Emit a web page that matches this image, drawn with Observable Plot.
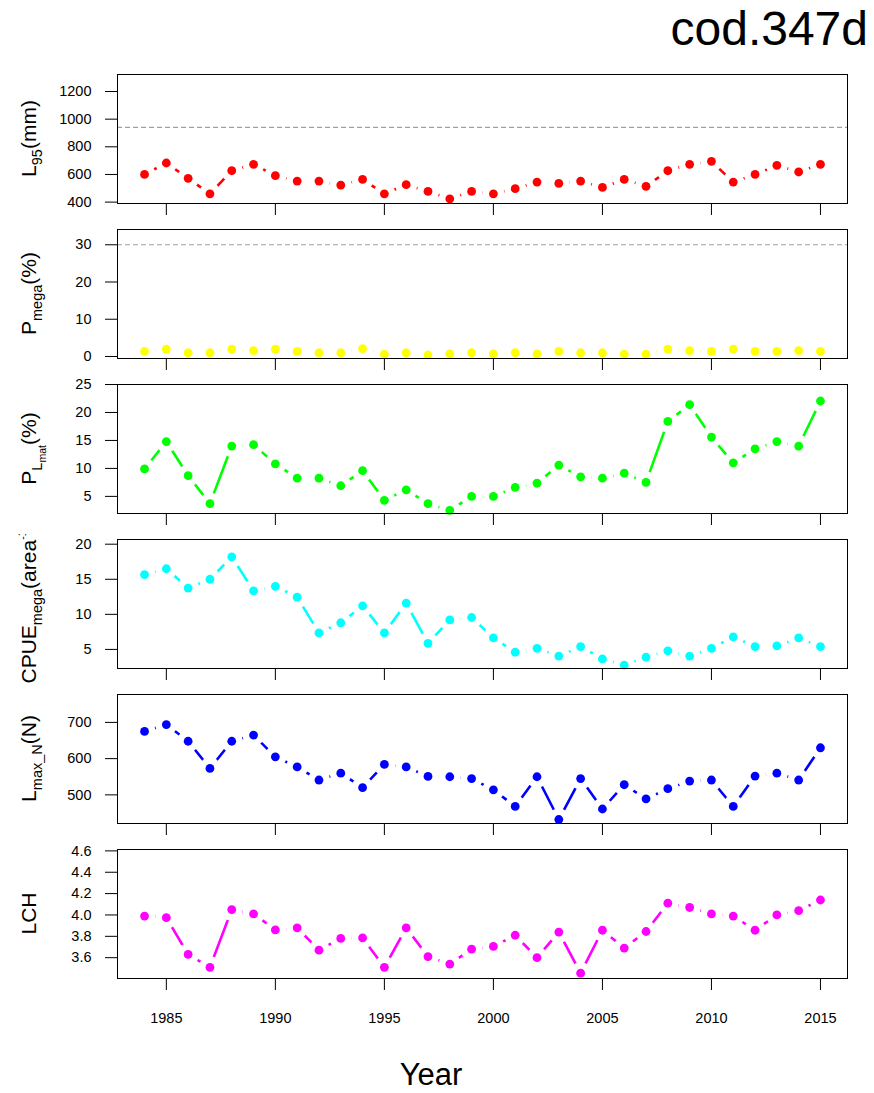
<!DOCTYPE html>
<html>
<head>
<meta charset="utf-8">
<script src="https://cdn.jsdelivr.net/npm/d3@7"></script>
<script src="https://cdn.jsdelivr.net/npm/@observablehq/plot@0.6"></script>
<style>
  body { margin: 0; background: #fff; }
  #chart { position: relative; width: 874px; height: 1093px; overflow: hidden; background: #fff;
           font-family: Arial, "Liberation Sans", sans-serif; }
  #chart svg.panel { position: absolute; left: 0; }
  #overlay { position: absolute; left: 0; top: 0; pointer-events: none; }
</style>
</head>
<body>
<div id="chart"></div>
<script>
// ---------------- data ----------------
const years = [1984,1985,1986,1987,1988,1989,1990,1991,1992,1993,1994,1995,1996,1997,1998,1999,
               2000,2001,2002,2003,2004,2005,2006,2007,2008,2009,2010,2011,2012,2013,2014,2015];

const L95 = [600,683,572,460,627,673,591,552,552,523,564,460,526,477,424,477,
             460,497,545,535,552,506,564,514,627,673,695,545,600,666,618,673];

const Pmega = [1.35,2.0,1.0,1.0,2.0,1.6,2.0,1.35,1.0,1.0,2.1,0.6,1.0,0.4,0.7,1.0,
               0.7,1.0,0.7,1.35,1.0,1.0,0.6,0.6,2.0,1.6,1.35,2.0,1.35,1.35,1.6,1.35];

const PLmat = [9.9,14.8,8.7,3.7,14.0,14.25,10.8,8.25,8.25,6.9,9.6,4.3,6.15,3.7,2.5,5.0,
               5.0,6.6,7.35,10.6,8.5,8.25,9.15,7.5,18.4,21.4,15.6,11.0,13.5,14.8,14.0,22.05];

const CPUEmega = [15.65,16.5,13.75,15.0,18.2,13.35,14.0,12.45,7.35,8.8,11.2,7.35,11.6,5.85,9.2,9.55,
                  6.65,4.6,5.15,4.05,5.4,3.65,2.75,3.9,4.8,4.05,5.15,6.8,5.4,5.5,6.65,5.4];

const LmaxN = [675,694,648,573,648,665,605,577,541,560,520,584,577,551,550,545,
               514,468,550,432,545,461,528,489,517,538,541,468,552,560,541,630];

const LCH = [3.99,3.975,3.63,3.51,4.05,4.01,3.86,3.88,3.67,3.78,3.785,3.51,3.88,3.61,3.54,3.68,
             3.705,3.81,3.60,3.84,3.455,3.857,3.69,3.845,4.11,4.07,4.01,3.99,3.857,4.0,4.04,4.14];

const xTicks = [1985,1990,1995,2000,2005,2010,2015];

const L95Ticks = [400,600,800,1000,1200];
const PmegaTicks = [0,10,20,30];
const PLmatTicks = [5,10,15,20,25];
const CPUETicks = [5,10,15,20];
const LmaxTicks = [500,600,700];
const LCHTicks = [3.6,3.8,4.0,4.2,4.4,4.6];

const L95Ref = 940;
const PmegaRef = 30;

// ---------------- layout ----------------
const W = 874;
const ML = 117, MR = 27;
const PH = 129;
const MT = 12;
const FONT = 'Arial, "Liberation Sans", sans-serif';

const panels = [
  {values: L95, color: "#ff0000", domain: [390, 1323], ticks: L95Ticks, ref: L95Ref, top: 74,
   label: [["L",0],["95",1],["(mm)",0]]},
  {values: Pmega, color: "#ffff00", domain: [-0.54, 34.1], ticks: PmegaTicks, ref: PmegaRef, top: 229,
   label: [["P",0],["mega",1],["(%)",0]]},
  {values: PLmat, color: "#00ff00", domain: [1.94, 25.0], ticks: PLmatTicks, top: 384,
   label: [["P",0],["L",1],["mat",2],["(%)",0]]},
  {values: CPUEmega, color: "#00ffff", domain: [2.28, 20.67], ticks: CPUETicks, top: 539, clipLabel: 5,
   label: [["CPUE",0],["mega",1],["(area",0],["-1",3],[")",0]]},
  {values: LmaxN, color: "#0000ff", domain: [421, 777], ticks: LmaxTicks, top: 694,
   label: [["L",0],["max_N",1],["(N)",0]]},
  {values: LCH, color: "#ff00ff", domain: [3.405, 4.613], ticks: LCHTicks, top: 849, last: true,
   tickFormat: d3.format(".1f"),
   label: [["LCH",0]]}
];

const chart = document.getElementById("chart");

panels.forEach((p, k) => {
  const rows = years.map((y, i) => ({year: y, value: p.values[i]}));
  const MB = p.last ? 70 : 26;
  const svg = Plot.plot({
    width: W,
    height: MT + PH + MB,
    marginLeft: ML, marginRight: MR, marginTop: MT, marginBottom: MB,
    style: {fontFamily: FONT, fontSize: "14.5px", color: "#000", background: "transparent", overflow: "visible"},
    x: {domain: [1982.76, 2016.24]},
    y: {domain: p.domain},
    marks: [
      p.ref != null ? Plot.ruleY([p.ref], {stroke: "#a0a0a0", strokeWidth: 1.2, strokeDasharray: "5,3"}) : null,
      Plot.line(rows, {x: "year", y: "value", stroke: p.color, strokeWidth: 2.6}),
      Plot.dot(rows, {x: "year", y: "value", r: 11, fill: "#fff", stroke: "none", clip: true}),
      Plot.dot(rows, {x: "year", y: "value", r: 4.4, fill: p.color, stroke: "none"}),
      Plot.frame({stroke: "#000", strokeWidth: 1}),
      Plot.axisX({ticks: xTicks, tickSize: 12, tickPadding: 22, label: null,
                  tickFormat: p.last ? (d => String(d)) : (() => ""), stroke: "#000", fill: "#000"}),
      Plot.axisY({ticks: p.ticks, tickSize: 12, tickPadding: 14, label: null,
                  tickFormat: p.tickFormat || (d => String(d)), stroke: "#000", fill: "#000"})
    ]
  });
  svg.classList.add("panel");
  svg.style.top = (p.top - MT) + "px";
  chart.appendChild(svg);

  const s = d3.select(svg);
  // optional clip for a label that runs past the figure region (as in the reference)
  let clipId = null;
  if (p.clipLabel != null) {
    clipId = "lblclip" + k;
    s.append("defs").append("clipPath").attr("id", clipId)
      .append("rect").attr("x", 0).attr("y", MT - p.clipLabel)
      .attr("width", ML).attr("height", PH + 40);
  }
  // rotated y-axis label with sub/superscripts
  const cy = MT + PH / 2;
  const sizes = {0: 21, 1: 14.5, 2: 10.5, 3: 10.5};
  const shifts = {0: 0, 1: 5.5, 2: 9.5, 3: -10};
  const g = s.append("g");
  if (clipId) g.attr("clip-path", `url(#${clipId})`);
  const t = g.append("text")
    .attr("transform", `translate(36,${cy}) rotate(-90)`)
    .attr("text-anchor", "middle")
    .attr("font-family", FONT)
    .attr("fill", "#000");
  let cur = 0;
  p.label.forEach(([txt, lvl]) => {
    const target = shifts[lvl];
    t.append("tspan")
      .attr("dy", target - cur)
      .attr("font-size", sizes[lvl])
      .text(txt);
    cur = target;
  });
});

// overlay texts: title and x-axis title
const ov = d3.select(chart).append("svg")
  .attr("id", "overlay")
  .attr("width", W).attr("height", 1093);
ov.append("text")
  .attr("x", 868).attr("y", 45)
  .attr("text-anchor", "end")
  .attr("font-family", FONT)
  .attr("font-size", 48)
  .attr("fill", "#000")
  .text("cod.347d");
ov.append("text")
  .attr("x", 431).attr("y", 1085)
  .attr("text-anchor", "middle")
  .attr("font-family", FONT)
  .attr("font-size", 31)
  .attr("fill", "#000")
  .text("Year");
</script>
</body>
</html>
